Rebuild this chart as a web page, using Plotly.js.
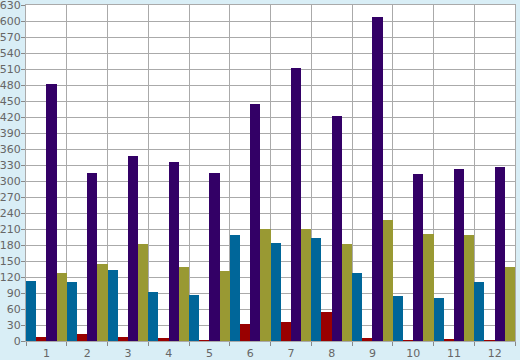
<!DOCTYPE html>
<html>
<head>
<meta charset="utf-8">
<script src="https://cdn.plot.ly/plotly-3.0.1.min.js"></script>
<style>html,body{margin:0;padding:0;background:#d9eef6;}#chart{width:520px;height:360px;}</style>
</head>
<body>
<div id="chart"></div>
<script>
const categories = ['1','2','3','4','5','6','7','8','9','10','11','12'];
const seriesBlue   = [113, 110, 134, 91, 87, 198, 183, 194, 127, 84, 80, 110];
const seriesRed    = [7, 14, 7, 5, 2, 31, 35, 54, 5, 1, 3, 1];
const seriesPurple = [482, 315, 347, 336, 315, 444, 512, 422, 608, 313, 322, 326];
const seriesOlive  = [127, 144, 181, 138, 131, 210, 210, 181, 226, 200, 198, 138];
const yTicks = [0,30,60,90,120,150,180,210,240,270,300,330,360,390,420,450,480,510,540,570,600,630];

const colors = ['#006699', '#990000', '#330066', '#999933'];
const all = [seriesBlue, seriesRed, seriesPurple, seriesOlive];
const names = ['Series 1','Series 2','Series 3','Series 4'];
const traces = all.map((vals, i) => ({
  type: 'bar', x: categories, y: vals, name: names[i],
  marker: {color: colors[i], line: {width: 0}},
  hoverinfo: 'x+y'
}));

const layout = {
  width: 520, height: 360,
  margin: {l: 26, r: 5, t: 5, b: 19, pad: 0},
  paper_bgcolor: '#d9eef6',
  plot_bgcolor: '#ffffff',
  showlegend: false,
  barmode: 'group', bargap: 0, bargroupgap: 0,
  font: {family: 'DejaVu Sans, Verdana, sans-serif', size: 11, color: '#666666'},
  xaxis: {
    type: 'category', range: [-0.5, 11.5], tickson: 'boundaries',
    ticks: 'outside', ticklen: 4, tickcolor: '#888888', tickwidth: 1,
    showgrid: true, gridcolor: '#aaaaaa', gridwidth: 1,
    showline: true, linecolor: '#aaaaaa', linewidth: 1, mirror: true,
    tickfont: {size: 11, color: '#666666'}, zeroline: false, fixedrange: true,
    ticklabelstandoff: 2
  },
  yaxis: {
    range: [0, 630.02], tickvals: yTicks, ticktext: yTicks.map(String),
    ticks: 'outside', ticklen: 4, tickcolor: '#888888', tickwidth: 1,
    showgrid: true, gridcolor: '#aaaaaa', gridwidth: 1,
    showline: true, linecolor: '#aaaaaa', linewidth: 1, mirror: true,
    tickfont: {size: 11, color: '#666666'}, zeroline: false,
    ticklabelstandoff: -2, ticklabeloverflow: 'allow', fixedrange: true
  }
};
Plotly.newPlot('chart', traces, layout, {displayModeBar: false, staticPlot: true});
</script>
</body>
</html>
